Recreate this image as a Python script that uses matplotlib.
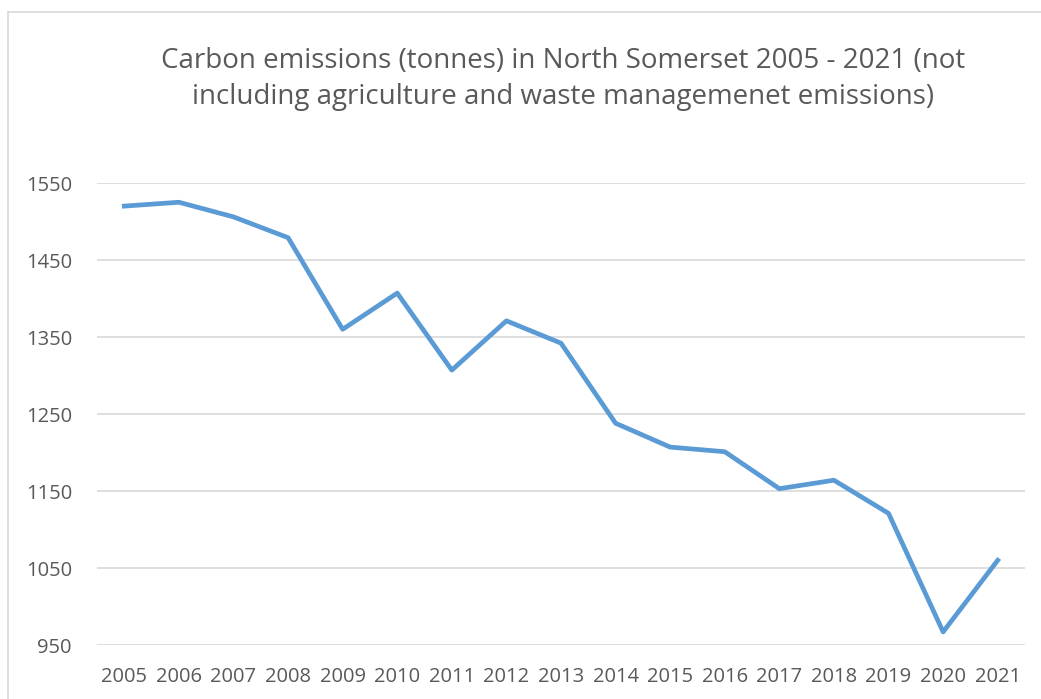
import matplotlib.pyplot as plt
from matplotlib.lines import Line2D

years = [str(y) for y in range(2005, 2022)]
emissions = [1520, 1525, 1506, 1479, 1360, 1407, 1307, 1371, 1342,
             1238, 1207, 1201, 1153, 1164, 1121, 967, 1060]
y_ticks = [950, 1050, 1150, 1250, 1350, 1450, 1550]

title = ("Carbon emissions (tonnes) in North Somerset 2005 - 2021 (not\n"
         "including agriculture and waste managemenet emissions)")

plt.rcParams['font.family'] = ['Open Sans', 'DejaVu Sans']
text_col = '#595959'

fig = plt.figure(figsize=(10.41, 6.99), dpi=100)
ax = fig.add_axes([97 / 1041, 1 - 645 / 699, 928 / 1041, 462 / 699])

x = list(range(len(years)))
ax.plot(x, emissions, color='#5B9BD5', linewidth=3.4, solid_joinstyle='round')

ax.set_xlim(-0.5, len(years) - 0.5)
ax.set_ylim(950, 1550)
ax.set_yticks(y_ticks)
ax.set_xticks(x)
ax.set_xticklabels(years)
ax.grid(axis='y', color='#D9D9D9', linewidth=1.2)
ax.set_axisbelow(True)
for s in ax.spines.values():
    s.set_visible(False)
ax.tick_params(length=0, labelsize=14.5, colors=text_col)
ax.tick_params(axis='y', pad=18)
ax.tick_params(axis='x', pad=16)

fig.text(563 / 1041, 1 - 79 / 699, title, ha='center', va='center',
         fontsize=20, color=text_col, linespacing=1.38)

# chart border (top and left visible in the crop)
fig.add_artist(Line2D([8 / 1041, 1], [1 - 12 / 699] * 2, color='#D9D9D9',
                      linewidth=1.2, transform=fig.transFigure))
fig.add_artist(Line2D([8 / 1041] * 2, [0, 1 - 12 / 699], color='#D9D9D9',
                      linewidth=1.2, transform=fig.transFigure))

fig.savefig('out.png', dpi=100)
